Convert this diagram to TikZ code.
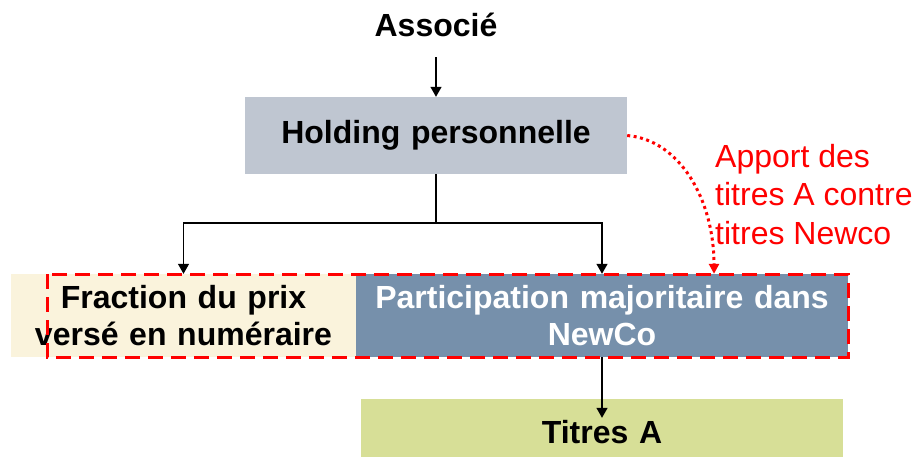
\documentclass[tikz,border=0pt]{standalone}
\usepackage{fontspec}
\setmainfont{Liberation Sans}
\usetikzlibrary{arrows.meta}

\definecolor{holdgray}{HTML}{BFC6D1}
\definecolor{cashbeige}{HTML}{FAF3DC}
\definecolor{newcoblue}{HTML}{7690AB}
\definecolor{titlegreen}{HTML}{D7DF97}
\definecolor{apportred}{HTML}{FF0000}

\tikzset{
  lbl/.style={font=\fontsize{32}{37}\selectfont\bfseries, inner sep=0pt, align=center},
  boxnode/.style={lbl, minimum width=#1, text width=#1},
  arr/.style={draw=black, line width=1.3pt, -{Triangle[length=10pt,width=11pt]}},
  link/.style={draw=black, line width=1.3pt},
  apport/.style={draw=apportred, line width=3pt, dash pattern=on 3pt off 3.5pt,
                 -{Triangle[length=10pt,width=10pt,fill=apportred]}},
  frame/.style={draw=apportred, line width=3pt, dash pattern=on 15pt off 8pt},
}

\begin{document}
\begin{tikzpicture}[x=1pt, y=-1pt]
  \useasboundingbox (0,0) rectangle (912,456);
  \begin{scope}
    \clip (0,0) rectangle (912,456);

    % top label
    \node[lbl] (associe) at (436,25) {Associé};

    % personal holding
    \node[boxnode=382pt, fill=holdgray, minimum height=77pt] (holding) at (436,135.5) {Holding personnelle};

    % the two parts of the price
    \node[boxnode=345pt, fill=cashbeige, minimum height=83pt] (fraction) at (183.5,315.5)
      {Fraction du prix\\versé en numéraire};
    \node[boxnode=492pt, fill=newcoblue, text=white, minimum height=83pt] (particip) at (602,315.5)
      {Participation majoritaire dans\\NewCo};

    % shares held
    \node[boxnode=482pt, fill=titlegreen, minimum height=67pt] (titres) at (602,432.5) {Titres A};

    % dashed outline round both parts
    \draw[frame] (47,274) rectangle (848,357);

    % connectors
    \draw[arr] ([yshift=-20pt]associe.south) -- (holding.north);
    \coordinate (split) at (holding.south |- 0,223);
    \draw[link] (holding.south) -- (split);
    \draw[arr] (split) -| (fraction.north);
    \draw[arr] (split) -| (particip.north);
    \draw[arr] (particip.south) -- ([yshift=-19pt]titres.north);

    % contribution of the shares
    \coordinate (apportend) at ([xshift=112pt]particip.north);
    \draw[apport] (holding.east) .. controls (680,140) and (714,200) .. (apportend);
    \node[font=\fontsize{32}{38.5}\selectfont, text=apportred, inner sep=0pt, anchor=north west,
          align=left] (apporttxt) at (715,144) {Apport des\\titres A contre\\titres Newco};
  \end{scope}
\end{tikzpicture}
\end{document}
